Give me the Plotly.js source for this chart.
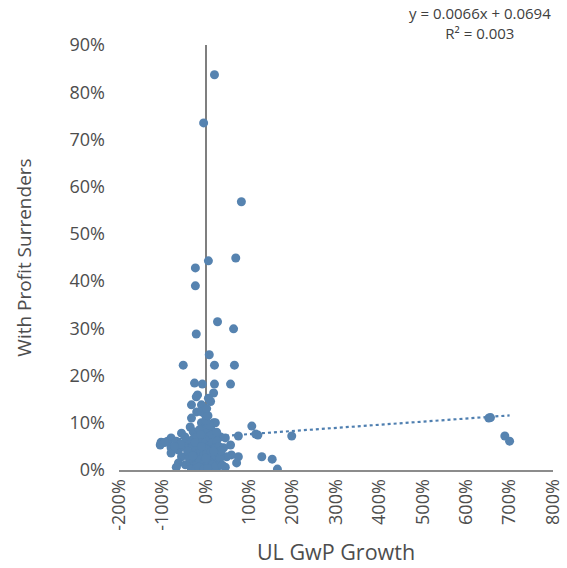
<!DOCTYPE html>
<html>
<head>
<meta charset="utf-8">
<script src="https://cdn.plot.ly/plotly-3.0.1.min.js"></script>
<style>html,body{margin:0;padding:0;background:#fff;}#chart{width:567px;height:568px;}</style>
</head>
<body>
<div id="chart"></div>
<script>
// UL GwP Growth (%) and With Profit Surrenders (%)
const growth = [
  20, -5, 82, 6, 69, -24, -24, 27, 64, -22, 8, -52, 20, 66, -26, -8, 20, 57, -19, 18,
  -22, 11, -33, -10, 6, -33, -21, -10, -1, 22, -10, 18, 13, -36, -29, -56, -80, -103, -105, -87,
  -68, -80, -80, -63, -56, -40, -63, -68, -47, -36, -33, 34, 45, 75, 106, 115, 120, 198, 57, 41,
  59, 48, 75, 71, 129, 153, 165, 45, 25, 652, 656, 689, 700,
  -30, -20, -15, -10, -5, 0, 5, 10, 15, 20, 25, 30, -25, -18, -12, -6, -2, 3, 8, 12,
  17, 22, 28, 33, -28, -20, -14, -8, -3, 2, 6, 10, 15, 20, -22, -16, -4, 4, -35, -45,
  -50, -42, -38, -30, -2, 3, -6, 8, -15, 0, 5, -12, -24, 14, 35, 38, -58, -72, -90, -95,
  -48, 0, -10, 18, 25, 2
];
const surrenders = [
  83.7, 73.5, 56.8, 44.3, 44.9, 42.8, 39.0, 31.4, 29.9, 28.8, 24.4, 22.2, 22.2, 22.2, 18.4, 18.2, 18.2, 18.2, 15.9, 16.3,
  15.5, 14.5, 13.8, 13.8, 15.2, 11.0, 12.3, 12.3, 11.7, 10.0, 10.0, 10.0, 8.5, 9.1, 8.1, 7.8, 6.8, 5.9, 5.3, 6.1,
  6.1, 4.7, 3.6, 4.2, 2.8, 3.6, 1.5, 0.6, 1.1, 1.7, 0.2, 7.0, 6.8, 7.2, 9.3, 7.6, 7.4, 7.2, 5.3, 4.7,
  3.2, 2.8, 2.8, 1.5, 2.8, 2.3, 0.2, 0.6, 0.4, 11.0, 11.1, 7.2, 6.1,
  6.5, 7.0, 5.5, 6.5, 7.5, 6.0, 5.0, 6.8, 5.8, 4.5, 6.2, 5.0, 4.5, 3.5, 4.0, 3.0, 4.5, 3.5, 2.5, 3.8,
  2.0, 3.0, 1.5, 2.5, 2.0, 1.2, 2.2, 1.0, 1.8, 0.8, 1.5, 0.5, 1.0, 0.6, 0.3, 0.6, 0.2, 0.3, 5.5, 6.2,
  5.0, 4.0, 2.5, 3.0, 9.0, 8.2, 8.5, 9.5, 8.5, 10.5, 11.5, 7.5, 5.8, 7.5, 4.0, 1.0, 5.5, 5.0, 6.0, 5.8,
  7.0, 2.5, 5.0, 4.0, 8.0, 13.0
];
// Trendline as printed on the chart: y = 0.0066x + 0.0694 (fractions)
const slope = 0.0066, intercept = 0.0694;
const xTickVals = [-200, -100, 0, 100, 200, 300, 400, 500, 600, 700, 800];
const xTickText = ['-200%', '-100%', '0%', '100%', '200%', '300%', '400%', '500%', '600%', '700%', '800%'];
const yTickVals = [0, 10, 20, 30, 40, 50, 60, 70, 80, 90];
const yTickText = ['0%', '10%', '20%', '30%', '40%', '50%', '60%', '70%', '80%', '90%'];

const xmin = Math.min(...growth), xmax = Math.max(...growth);
const trendX = [xmin, xmax];
const trendY = trendX.map(v => 100 * (slope * v / 100 + intercept));

const fontFam = '"Open Sans", "Segoe UI", sans-serif';
const grey = '#4d4d4d';

const data = [
  {
    x: trendX, y: trendY, type: 'scatter', mode: 'lines',
    line: {color: '#4f7fb0', width: 2.2, dash: 'dot'}, hoverinfo: 'skip'
  },
  {
    x: growth, y: surrenders, type: 'scatter', mode: 'markers',
    marker: {color: '#5683b0', size: 9, line: {width: 0}}
  }
];

const layout = {
  width: 567, height: 568,
  margin: {l: 119, r: 14, t: 45, b: 98},
  paper_bgcolor: '#ffffff', plot_bgcolor: '#ffffff',
  showlegend: false,
  font: {family: fontFam, color: grey, size: 15},
  xaxis: {
    range: [-200, 800], tickvals: xTickVals, ticktext: xTickText, tickangle: -90,
    showgrid: false, zeroline: true, zerolinecolor: '#7f7f7f', zerolinewidth: 1.5,
    showline: true, linecolor: '#8c8c8c', linewidth: 2, ticks: '',
    tickfont: {size: 18, color: grey, family: fontFam},
    title: {text: 'UL GwP Growth', font: {size: 21.5, color: grey, family: fontFam}, standoff: 15}
  },
  yaxis: {
    range: [0, 90], tickvals: yTickVals, ticktext: yTickText,
    showgrid: false, zeroline: false, showline: false, ticks: '',
    ticklabelstandoff: 13,
    tickfont: {size: 18, color: grey, family: fontFam},
    title: {text: 'With Profit Surrenders', font: {size: 19, color: grey, family: fontFam}, standoff: 32}
  },
  annotations: [{
    xref: 'paper', yref: 'paper', x: 1.0, y: 1.0, xanchor: 'right', yanchor: 'bottom',
    yshift: 0, align: 'center', showarrow: false,
    text: 'y = 0.0066x + 0.0694<br>R² = 0.003',
    font: {size: 15, color: '#404040', family: fontFam}
  }]
};

Plotly.newPlot('chart', data, layout, {displayModeBar: false, staticPlot: true});
</script>
</body>
</html>
